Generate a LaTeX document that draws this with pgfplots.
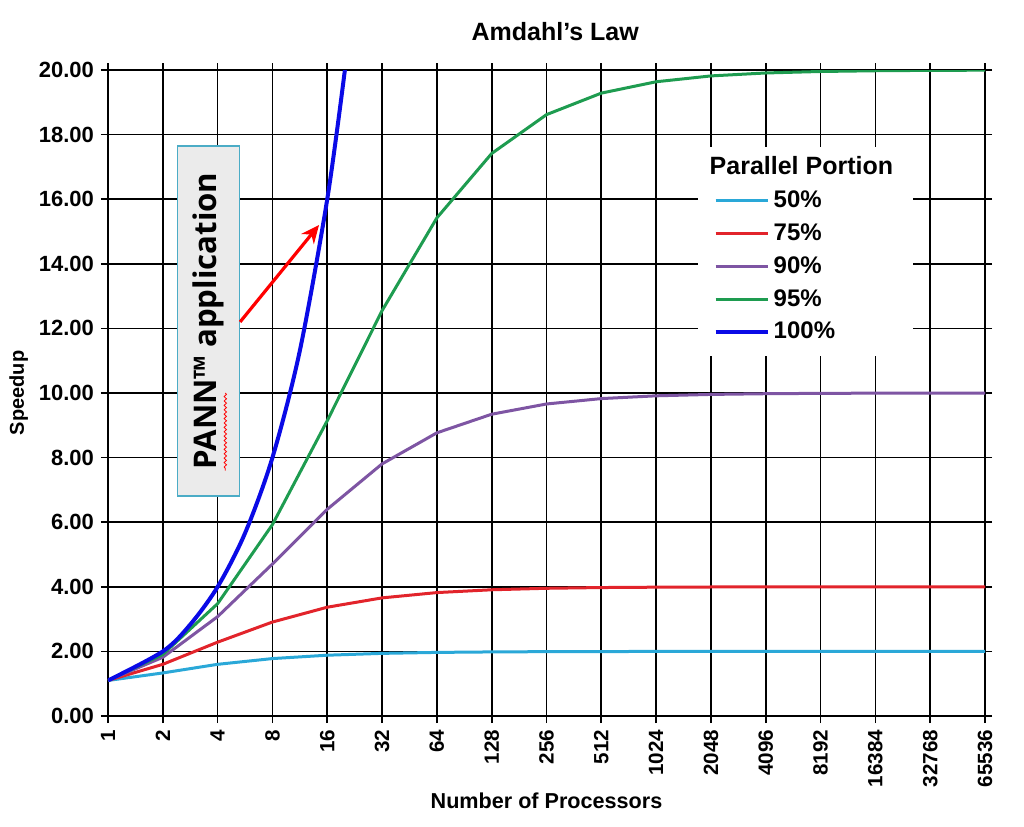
\documentclass[border=0pt]{standalone}
\usepackage{pgfplots}
\pgfplotsset{compat=1.18}
\usepackage{fontspec}
\setmainfont{Liberation Sans}
\newfontfamily\pannfont{Open Sans}
\usetikzlibrary{decorations.pathmorphing,arrows.meta}
\definecolor{c50}{HTML}{2AA8D8}
\definecolor{c75}{HTML}{E2242B}
\definecolor{c90}{HTML}{7E55A3}
\definecolor{c95}{HTML}{1E9C50}
\definecolor{c100}{HTML}{0A0AE6}
\definecolor{boxfill}{HTML}{EBEBEB}
\definecolor{boxdraw}{HTML}{4BACC6}
\begin{document}
\begin{tikzpicture}
\path[use as bounding box] (-54pt,-55pt) rectangle (458pt,358pt);
\begin{axis}[
  at={(0,0)}, anchor=south west,
  scale only axis,
  width=438.5pt, height=323pt,
  xmin=0, xmax=16, ymin=0, ymax=20,
  xtick={0,...,16},
  xticklabels={1,2,4,8,16,32,64,128,256,512,1024,2048,4096,8192,16384,32768,65536},
  ytick={0,2,...,20},
  grid=major,
  major grid style={black, line width=0.85pt},
  axis line style={black, line width=0.85pt},
  tick style={black, line width=0.85pt},
  tick align=outside,
  major tick length=3.5pt,
  x tick label style={rotate=90, anchor=east, font=\bfseries\fontsize{10.3}{11}\selectfont},
  y tick label style={font=\bfseries\fontsize{11}{12}\selectfont,
     /pgf/number format/.cd, fixed, fixed zerofill, precision=2, assume math mode=true},
  title={\bfseries\fontsize{12.5}{14}\selectfont Amdahl’s Law},
  title style={at={(0.510,1)}, anchor=south, yshift=5pt},
  xlabel={\bfseries\fontsize{10.8}{12}\selectfont Number of Processors},
  xlabel style={at={(0.500,0)}, anchor=north, yshift=-35pt},
  ylabel={\bfseries\fontsize{10}{11}\selectfont Speedup},
  ylabel style={xshift=0pt, yshift=-1.5pt},
  every axis y label/.append style={at={(ticklabel cs:0.5)}},
  legend style={at={(0.672,0.882)}, anchor=north west, draw=none, fill=white,
    font=\bfseries\fontsize{12}{13}\selectfont, row sep=2.6pt,
    inner xsep=8pt, inner ysep=5pt},
  legend cell align=left,
  legend image code/.code={\draw[#1] (0pt,0pt) -- (26pt,0pt);},
]
\addlegendimage{empty legend}
\addlegendentry{\hspace{-32pt}\raisebox{0pt}[6.8pt][0pt]{\fontsize{12.5}{14}\selectfont Parallel Portion}}
\addplot[c50, line width=1.5pt] coordinates {(0,1.1)(1,1.333)(2,1.6)(3,1.778)(4,1.882)(5,1.939)(6,1.969)(7,1.984)(8,1.992)(9,1.996)(10,1.998)(11,1.999)(12,2)(13,2)(14,2)(15,2)(16,2)};
\addlegendentry{50\%}
\addplot[c75, line width=1.5pt] coordinates {(0,1.1)(1,1.6)(2,2.286)(3,2.909)(4,3.368)(5,3.657)(6,3.821)(7,3.908)(8,3.954)(9,3.977)(10,3.988)(11,3.994)(12,3.997)(13,3.999)(14,3.999)(15,4)(16,4)};
\addlegendentry{75\%}
\addplot[c90, line width=1.5pt] coordinates {(0,1.1)(1,1.818)(2,3.077)(3,4.706)(4,6.4)(5,7.805)(6,8.767)(7,9.343)(8,9.660)(9,9.827)(10,9.913)(11,9.956)(12,9.978)(13,9.989)(14,9.995)(15,9.997)(16,9.999)};
\addlegendentry{90\%}
\addplot[c95, line width=1.5pt] coordinates {(0,1.1)(1,1.905)(2,3.478)(3,5.926)(4,9.143)(5,12.549)(6,15.422)(7,17.415)(8,18.618)(9,19.284)(10,19.636)(11,19.817)(12,19.908)(13,19.954)(14,19.977)(15,19.989)(16,19.994)};
\addlegendentry{95\%}
\addplot[c100, line width=2pt, smooth] coordinates {(0,1.1)(1,2)(1.5,2.83)(2,4)(2.5,5.66)(3,8)(3.5,11.31)(4,16)(4.322,20)};
\addlegendentry{100\%}
\node[rotate=90, fill=boxfill, draw=boxdraw, line width=0.6pt, minimum width=175pt, minimum height=31pt, inner sep=0pt]
  at (axis cs:1.84,12.23) {\pannfont\bfseries\fontsize{15.6}{19}\selectfont PANN™ application};
\draw[red, line width=0.4pt, decorate, decoration={snake, amplitude=0.6pt, segment length=2.2pt}]
  (axis cs:2.14,10.0) -- (axis cs:2.14,7.6);
\draw[red, line width=1.6pt, -{Stealth[length=9pt,width=8pt]}] (axis cs:2.41,12.2) -- (axis cs:3.85,15.2);
\end{axis}
\end{tikzpicture}
\end{document}
